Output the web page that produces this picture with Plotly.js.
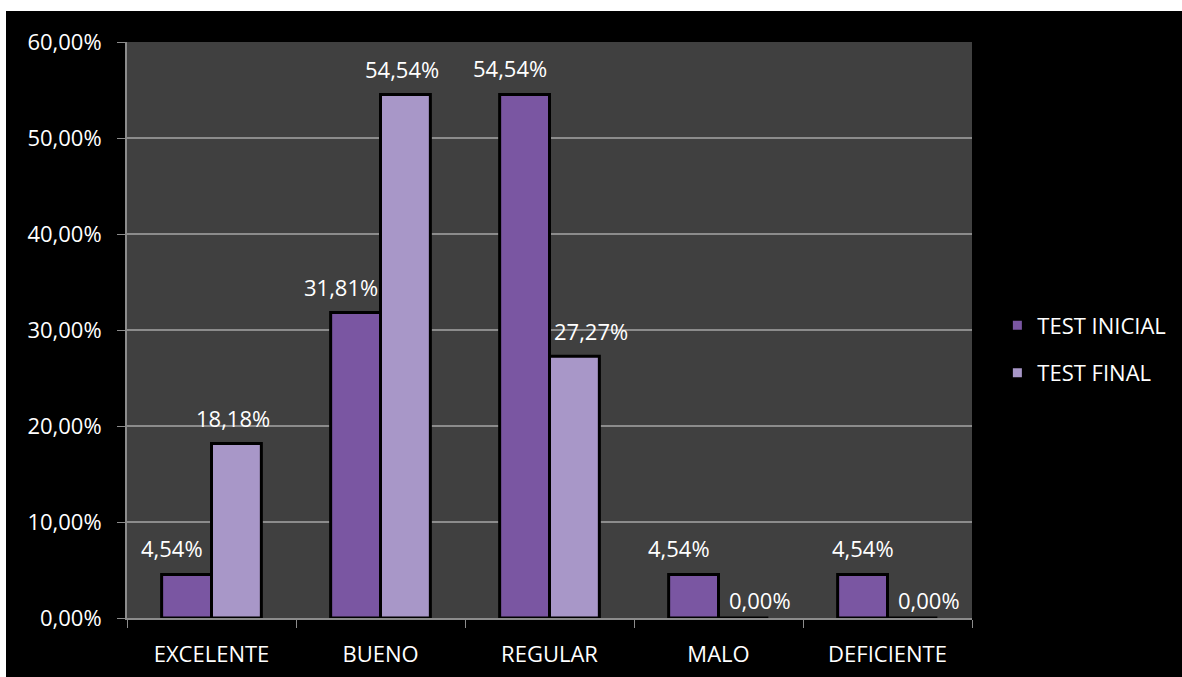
<!DOCTYPE html>
<html>
<head>
<meta charset="utf-8">
<script src="https://cdn.plot.ly/plotly-3.0.1.min.js"></script>
<style>
html,body{margin:0;padding:0;background:#ffffff;width:1182px;height:677px;overflow:hidden;}
#chart{position:absolute;left:6px;top:11px;width:1176px;height:666px;}
</style>
</head>
<body>
<div id="chart"></div>
<script>
var categories = ["EXCELENTE", "BUENO", "REGULAR", "MALO", "DEFICIENTE"];
var testInicial = [0.0454, 0.3181, 0.5454, 0.0454, 0.0454];
var testFinal = [0.1818, 0.5454, 0.2727, 0.0, 0.0];
var labelsInicial = ["4,54%", "31,81%", "54,54%", "4,54%", "4,54%"];
var labelsFinal = ["18,18%", "54,54%", "27,27%", "0,00%", "0,00%"];
var seriesNames = ["TEST INICIAL", "TEST FINAL"];
var yTicks = [0, 0.1, 0.2, 0.3, 0.4, 0.5, 0.6];

var FONT = "Open Sans, Noto Sans, sans-serif";
var FS = 22;
var BARGAP = 0.41;
var half = (1 - BARGAP) / 4; // offset of each bar centre from category centre

var traces = [
  {
    type: "bar", name: seriesNames[0], x: categories, y: testInicial,
    marker: {color: "#7a56a2", line: {color: "#000000", width: 3}},
    legendgroup: "a", hoverinfo: "none"
  },
  {
    type: "bar", name: seriesNames[1], x: categories, y: testFinal,
    marker: {color: "#a897c8", line: {color: "#000000", width: 3}},
    legendgroup: "b", hoverinfo: "none"
  }
];

// data labels placed above each bar, nudged away from a taller neighbour
var annotations = [];
categories.forEach(function(c, i){
  var a = testInicial[i], f = testFinal[i];
  annotations.push({
    x: i - half, y: a, xref: "x", yref: "y", text: labelsInicial[i],
    showarrow: false, xanchor: "center", yanchor: "middle",
    yshift: 26, xshift: (i === categories.length - 1) ? 0 : -15,
    font: {size: FS, color: "#ffffff", family: FONT}
  });
  annotations.push({
    x: i + half, y: f, xref: "x", yref: "y", text: labelsFinal[i],
    showarrow: false, xanchor: "center", yanchor: "middle",
    yshift: (f > 0) ? 25 : 18, xshift: (a > f) ? 17 : -3,
    font: {size: FS, color: "#ffffff", family: FONT}
  });
});

var layout = {
  width: 1176, height: 666,
  paper_bgcolor: "#000000", plot_bgcolor: "#404040",
  margin: {l: 121, r: 210, t: 31, b: 59, pad: 0},
  separators: ",.",
  font: {family: FONT, color: "#ffffff", size: FS},
  bargap: BARGAP, bargroupgap: 0,
  showlegend: true,
  annotations: annotations,
  legend: {
    xref: "container", yref: "container",
    x: 0.843, y: 0.492, xanchor: "left", yanchor: "middle",
    bgcolor: "rgba(0,0,0,0)", font: {size: FS, color: "#ffffff", family: FONT},
    tracegroupgap: 16, traceorder: "grouped"
  },
  xaxis: {
    type: "category", tickson: "boundaries", ticks: "outside", ticklen: 8,
    tickcolor: "#8c8c8c", showline: true, linecolor: "#8c8c8c", linewidth: 2,
    showgrid: false, tickfont: {size: FS, color: "#ffffff"}, automargin: false,
    ticklabelstandoff: 16, range: [-0.5, 4.5]
  },
  yaxis: {
    range: [0, 0.6], tickvals: yTicks, tickformat: ".2%",
    ticks: "outside", ticklen: 8, tickcolor: "#8c8c8c",
    showline: true, linecolor: "#8c8c8c", linewidth: 2,
    showgrid: true, gridcolor: "#8c8c8c", gridwidth: 1.5,
    zeroline: false, tickfont: {size: FS, color: "#ffffff"}, automargin: false,
    ticklabelstandoff: 11
  }
};

Plotly.newPlot("chart", traces, layout, {staticPlot: true, displayModeBar: false});
</script>
</body>
</html>
